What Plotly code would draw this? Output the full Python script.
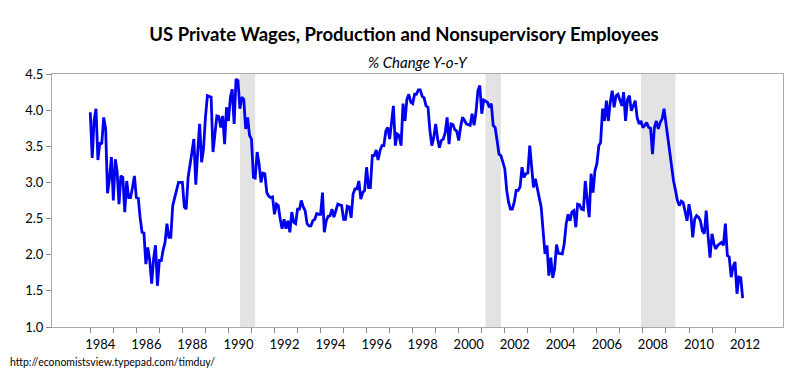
import pandas as pd
import plotly.graph_objects as go

# Monthly % change Y-o-Y, Jan 1984 onward
v1984 = [3.97, 3.34, 3.85, 4.02, 3.31, 3.55, 3.53, 3.90, 3.74, 2.85, 3.05, 3.35]
v1985 = [2.75, 3.32, 3.16, 2.70, 3.09, 3.07, 2.59, 3.02, 2.79, 2.79, 2.93, 3.09]
v1986 = [2.79, 2.78, 2.52, 2.31, 2.30, 1.87, 2.10, 1.92, 1.60, 1.94, 2.13, 1.57]
v1987 = [1.92, 1.92, 2.06, 2.17, 2.43, 2.24, 2.24, 2.68, 2.79, 2.91, 3.00, 3.00]
v1988 = [3.00, 2.66, 2.63, 3.07, 3.28, 3.42, 3.60, 2.97, 3.44, 3.81, 3.28, 3.46]
v1989 = [3.90, 4.20, 4.19, 4.18, 3.42, 3.72, 3.92, 3.91, 3.76, 3.92, 3.53, 4.04]
v1990 = [3.85, 4.18, 4.29, 3.81, 4.43, 4.41, 4.02, 4.18, 4.15, 3.74, 3.90, 3.65]
v1991 = [3.60, 3.07, 3.06, 3.42, 3.26, 3.00, 3.13, 3.12, 2.86, 2.81, 2.79, 2.80]
v1992 = [2.56, 2.70, 2.68, 2.49, 2.36, 2.49, 2.36, 2.47, 2.31, 2.59, 2.45, 2.43]
v1993 = [2.63, 2.63, 2.75, 2.66, 2.61, 2.43, 2.40, 2.40, 2.47, 2.49, 2.57, 2.56]
v1994 = [2.56, 2.86, 2.31, 2.47, 2.53, 2.54, 2.63, 2.52, 2.63, 2.70, 2.69, 2.68]
v1995 = [2.49, 2.49, 2.67, 2.66, 2.51, 2.84, 2.91, 2.91, 3.02, 2.77, 2.86, 2.89]
v1996 = [3.21, 2.93, 2.93, 3.37, 3.37, 3.45, 3.31, 3.44, 3.51, 3.51, 3.71, 3.76]
v1997 = [3.60, 3.83, 4.06, 3.51, 3.67, 3.65, 3.51, 4.09, 3.85, 4.15, 4.22, 4.11]
v1998 = [4.09, 4.22, 4.22, 4.28, 4.28, 4.19, 4.17, 4.06, 4.04, 3.72, 3.51, 3.62]
v1999 = [3.81, 3.60, 3.48, 3.58, 3.60, 3.69, 3.90, 3.53, 3.81, 3.80, 3.73, 3.71]
v2000 = [3.58, 3.77, 3.90, 3.86, 3.81, 3.80, 3.79, 3.95, 3.79, 3.97, 4.27, 4.34]
v2001 = [3.95, 4.14, 4.12, 4.11, 4.04, 4.09, 3.79, 3.76, 3.58, 3.39, 3.37, 3.28]
v2002 = [3.19, 2.89, 2.73, 2.63, 2.63, 2.73, 2.89, 2.89, 2.94, 3.21, 3.07, 3.12]
v2003 = [3.13, 3.51, 3.21, 2.93, 3.05, 2.89, 2.79, 2.66, 2.33, 2.01, 2.13, 1.71]
v2004 = [1.96, 1.68, 1.80, 2.14, 2.02, 2.01, 2.01, 2.15, 2.43, 2.56, 2.47, 2.59]
v2005 = [2.61, 2.38, 2.70, 2.69, 2.63, 2.62, 3.02, 2.75, 2.52, 3.12, 2.86, 3.16]
v2006 = [3.26, 3.51, 3.55, 4.02, 3.85, 4.13, 3.85, 4.11, 4.27, 4.04, 4.20, 4.22]
v2007 = [4.15, 4.06, 4.25, 3.85, 4.15, 4.20, 3.99, 4.06, 4.13, 3.90, 3.81, 3.85]
v2008 = [3.76, 3.79, 3.83, 3.76, 3.75, 3.39, 3.76, 3.85, 3.74, 3.83, 3.88, 4.02]
v2009 = [3.81, 3.62, 3.39, 3.26, 3.02, 2.89, 2.75, 2.68, 2.74, 2.72, 2.61, 2.47]
v2010 = [2.70, 2.54, 2.24, 2.49, 2.54, 2.52, 2.47, 2.33, 2.29, 2.61, 2.24, 1.96]
v2011 = [2.29, 2.15, 2.08, 2.13, 2.15, 2.17, 2.13, 2.43, 1.99, 1.97, 1.69, 1.83]
v2012 = [1.90, 1.46, 1.69, 1.68, 1.40]

values = (v1984 + v1985 + v1986 + v1987 + v1988 + v1989 + v1990 + v1991 + v1992 + v1993
          + v1994 + v1995 + v1996 + v1997 + v1998 + v1999 + v2000 + v2001 + v2002 + v2003
          + v2004 + v2005 + v2006 + v2007 + v2008 + v2009 + v2010 + v2011 + v2012)
dates = pd.date_range("1984-01-01", periods=len(values), freq="MS")

# NBER recessions
recession_starts = ["1990-07-01", "2001-03-01", "2007-12-01"]
recession_ends = ["1991-03-01", "2001-11-01", "2009-06-01"]

tick_years = list(range(1984, 2013))
tick_vals = [f"{y}-01-01" for y in tick_years]
tick_text = [str(y) if y % 2 == 0 else "" for y in tick_years]

y_ticks = [1.0, 1.5, 2.0, 2.5, 3.0, 3.5, 4.0, 4.5]
y_text = [f"{t:.1f}" for t in y_ticks]

FONT = "Lato, 'Open Sans', sans-serif"

# page body has an 8px margin, so the figure is 792x382 placed at (8, 8)
W, H = 792, 382

fig = go.Figure()
for s, e in zip(recession_starts, recession_ends):
    fig.add_vrect(x0=s, x1=e, fillcolor="#e3e3e3", opacity=1, line_width=0, layer="below")

fig.add_trace(go.Scatter(x=dates, y=values, mode="lines",
                         line=dict(color="#0000f0", width=2.8), hoverinfo="x+y"))

fig.update_layout(
    width=W, height=H,
    margin=dict(l=44, r=17, t=66, b=63),
    paper_bgcolor="white", plot_bgcolor="white",
    showlegend=False,
    font=dict(family=FONT, size=13, color="#000000"),
    title=dict(text="<b>US Private Wages, Production and Nonsupervisory Employees</b>",
               x=0.5, xanchor="center", y=1 - 27 / H, yanchor="middle",
               font=dict(family=FONT, size=18.5, color="#000000")),
    annotations=[
        dict(text="<i>% Change Y-o-Y</i>", xref="paper", yref="paper", x=0.5, y=1 + 12 / 253,
             xanchor="center", yanchor="middle", showarrow=False,
             font=dict(family=FONT, size=15, color="#000000")),
        dict(text="http://economistsview.typepad.com/timduy/", xref="paper", yref="paper",
             x=-44 / 731, y=-35 / 253, xanchor="left", yanchor="middle", showarrow=False,
             font=dict(family=FONT, size=10.5, color="#000000")),
    ],
)
fig.update_xaxes(
    type="date", range=["1982-05-04", "2014-01-31"],
    tickmode="array", tickvals=tick_vals, ticktext=tick_text,
    ticks="outside", ticklen=5, tickcolor="#888888", ticklabelshift=10,
    showgrid=False, zeroline=False,
    showline=True, linecolor="#aaaaaa", linewidth=1, mirror=True,
    tickfont=dict(family=FONT, size=13, color="#000000"),
)
fig.update_yaxes(
    range=[1.0, 4.5], tickmode="array", tickvals=y_ticks, ticktext=y_text,
    ticks="outside", ticklen=5, tickcolor="#888888",
    showgrid=False, zeroline=False,
    showline=True, linecolor="#aaaaaa", linewidth=1, mirror=True,
    tickfont=dict(family=FONT, size=13, color="#000000"),
)

fig.write_html("out.html")
